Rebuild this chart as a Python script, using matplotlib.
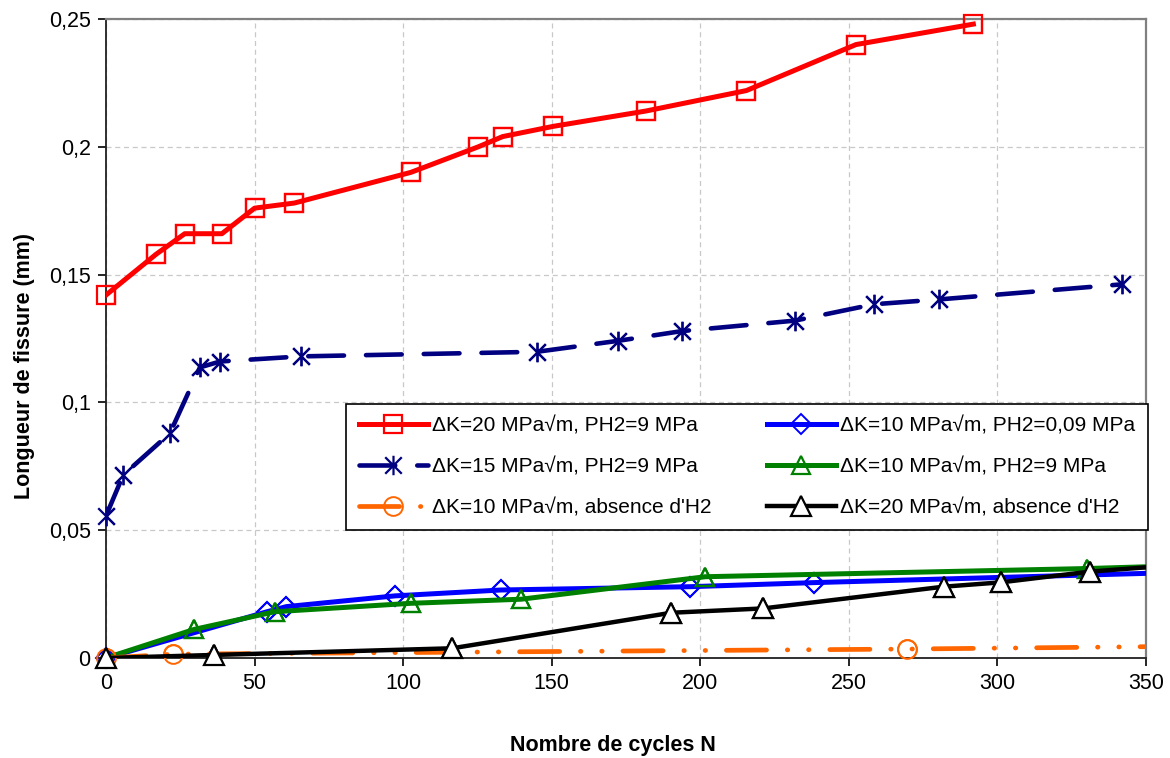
import numpy as np
import matplotlib
matplotlib.use('Agg')
from matplotlib import pyplot as plt
from matplotlib.path import Path

plt.rcParams['font.family'] = ['Liberation Sans', 'DejaVu Sans']

# courbes : N (cycles) et longueur de fissure (mm)
n_dk20_h9 = [0, 16.9, 26.5, 39.0, 50.0, 63.4, 102.6, 125.3, 133.5, 150.5, 181.7, 215.5, 252.4, 291.9]
a_dk20_h9 = [0.142, 0.158, 0.166, 0.166, 0.176, 0.178, 0.190, 0.200, 0.204, 0.208, 0.214, 0.222, 0.240, 0.248]

n_dk10_h009 = [0, 54.2, 60.7, 97.2, 132.8, 196.7, 238.4, 365]
a_dk10_h009 = [0, 0.0181, 0.0201, 0.0243, 0.0266, 0.0279, 0.0295, 0.0336]

n_dk15_h9 = [0, 5.8, 21.5, 31.6, 38.4, 65.5, 145.0, 172.4, 193.8, 231.9, 258.5, 280.5, 342.0]
a_dk15_h9 = [0.0556, 0.0716, 0.0879, 0.1137, 0.116, 0.118, 0.1198, 0.1241, 0.1279, 0.132, 0.1384, 0.1403, 0.1462]

n_dk10_h9 = [0, 29.7, 56.8, 102.6, 139.7, 201.7, 330, 365]
a_dk10_h9 = [0, 0.0112, 0.0181, 0.0214, 0.0230, 0.0318, 0.0350, 0.0362]

n_dk10_air = [0, 22.7, 269.4, 365]
a_dk10_air = [0, 0.0015, 0.0035, 0.0046]

n_dk20_air = [0, 36.5, 116.5, 190.2, 221.2, 281.9, 301.2, 331.2, 365]
a_dk20_air = [0, 0.0012, 0.0038, 0.0177, 0.0194, 0.0279, 0.0296, 0.0338, 0.0368]

labels = ['ΔK=20 MPa√m, PH2=9 MPa', 'ΔK=10 MPa√m, PH2=0,09 MPa',
          'ΔK=15 MPa√m, PH2=9 MPa', 'ΔK=10 MPa√m, PH2=9 MPa',
          'ΔK=10 MPa√m, absence d\'H2', 'ΔK=20 MPa√m, absence d\'H2']

xticks = [0, 50, 100, 150, 200, 250, 300, 350]
yticks = [0, 0.05, 0.1, 0.15, 0.2, 0.25]
ytick_labels = ['0', '0,05', '0,1', '0,15', '0,2', '0,25']

xmax = 350

# etoile type excel : trait vertical + croix
star = Path([(0, -1), (0, 1), (-0.85, -0.85), (0.85, 0.85), (-0.85, 0.85), (0.85, -0.85)],
            [Path.MOVETO, Path.LINETO, Path.MOVETO, Path.LINETO, Path.MOVETO, Path.LINETO])

fig = plt.figure(figsize=(11.7, 7.58), dpi=100)
ax = fig.add_axes([106/1170, 1-658/758, 1040/1170, 639/758])


def trace(x, y, label, line_kw, mark_kw):
    x = np.asarray(x)
    y = np.asarray(y)
    h, = ax.plot(x, y, label=label, **line_kw, **mark_kw)
    inside = x <= xmax
    ax.plot(x[inside], y[inside], ls='none', clip_on=False, zorder=h.get_zorder(), **mark_kw)
    return h


h1 = trace(n_dk20_h9, a_dk20_h9, labels[0],
           dict(color='#FF0000', lw=3.6, solid_joinstyle='round', zorder=3),
           dict(marker='s', ms=13.5, mfc='none', mec='#FF0000', mew=1.6))
h2 = trace(n_dk10_h009, a_dk10_h009, labels[1],
           dict(color='#0000FF', lw=3.6, solid_joinstyle='round', zorder=3),
           dict(marker='D', ms=10, mfc='none', mec='#0000FF', mew=1.4))
h3 = trace(n_dk15_h9, a_dk15_h9, labels[2],
           dict(color='#000080', lw=3.3, ls=(0, (7.8, 4.8)), dash_capstyle='round', zorder=3),
           dict(marker=star, ms=14, mfc='none', mec='#000080', mew=1.6))
h4 = trace(n_dk10_h9, a_dk10_h9, labels[3],
           dict(color='#008000', lw=3.6, solid_joinstyle='round', zorder=4),
           dict(marker='^', ms=12.5, mfc='none', mec='#008000', mew=1.6))
h5 = trace(n_dk10_air, a_dk10_air, labels[4],
           dict(color='#FF6600', lw=3.4, ls=(0, (8.5, 4.4, 0.1, 4.4, 0.1, 4.4)), dash_capstyle='round', zorder=4),
           dict(marker='o', ms=13.5, mfc='none', mec='#FF6600', mew=1.4))
h6 = trace(n_dk20_air, a_dk20_air, labels[5],
           dict(color='black', lw=3.2, solid_joinstyle='round', zorder=5),
           dict(marker='^', ms=14, mfc='white', mec='black', mew=1.6))

ax.set_xlim(0, xmax)
ax.set_ylim(0, 0.25)
ax.set_xticks(xticks)
ax.set_xticklabels([str(t) for t in xticks])
ax.set_yticks(yticks)
ax.set_yticklabels(ytick_labels)
ax.tick_params(labelsize=15.5, length=6, width=1.2, direction='out', pad=5, colors='black')

ax.grid(True, color='#C8C8C8', ls=(0, (4, 3)), lw=0.9)
ax.set_axisbelow(True)

for s in ['top', 'right']:
    ax.spines[s].set_color('#808080')
    ax.spines[s].set_linewidth(1.6)
for s in ['left', 'bottom']:
    ax.spines[s].set_color('#202020')
    ax.spines[s].set_linewidth(1.3)

# legende en deux colonnes (ordre des lignes comme excel)
leg = ax.legend([h1, h3, h5, h2, h4, h6],
                [labels[0], labels[2], labels[4], labels[1], labels[3], labels[5]],
                ncol=2, loc='center', mode='expand',
                bbox_to_anchor=(230/1040, 126/639, 822/1040, 130/639),
                fontsize=15, handlelength=3.3, handletextpad=0.2,
                labelspacing=1.05, borderpad=0.6, fancybox=False, framealpha=1,
                edgecolor='black')
leg.get_frame().set_linewidth(1.2)
leg.set_zorder(10)

fig.text(613/1170, 1-745/758, 'Nombre de cycles N', ha='center', va='center',
         fontsize=15.5, fontweight='bold')
fig.text(25/1170, 1-366/758, 'Longueur de fissure (mm)', ha='center', va='center',
         rotation=90, fontsize=15.5, fontweight='bold')

fig.savefig('out.png', dpi=100)
